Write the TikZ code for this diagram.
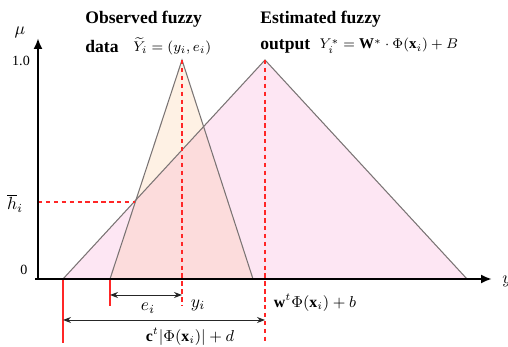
\documentclass[tikz,border=0pt]{standalone}
\usepackage{amsmath,amssymb}
\usepackage{fontspec}
\setmainfont{Liberation Serif}
\usepackage{xcolor}
\usepackage{tikz}
\usetikzlibrary{arrows.meta, positioning, calc}

\definecolor{estpink}{HTML}{FDE6F3}
\definecolor{obsbeige}{HTML}{FEF1E4}
\definecolor{overlap}{HTML}{FCDCDC}
\definecolor{edgegray}{HTML}{7A7474}

\begin{document}
\begin{tikzpicture}[
    x=0.02cm, y=-0.02cm,
    axis/.style={-{Latex[length=2.2mm, width=1.8mm]}, line width=1.5pt, black},
    edge/.style={draw=edgegray, line width=0.6pt},
    guide/.style={red!85!white, line width=0.6pt, dash pattern=on 2.5pt off 2pt},
    redmark/.style={red!85!white, line width=0.7pt},
    dim/.style={{Stealth[length=1.6mm]}-{Stealth[length=1.6mm]}, line width=0.5pt, black!85},
    title/.style={font=\fontsize{10}{11}\selectfont\bfseries, anchor=west, inner sep=0pt},
    formula/.style={font=\fontsize{8.5}{10}\selectfont, anchor=west, inner sep=0pt},
    ticklabel/.style={font=\fontsize{8}{9}\selectfont, inner sep=0pt},
]
\useasboundingbox (0,0) rectangle (508,347);

% Points of the two membership functions
\coordinate (origin) at (38,279);
\coordinate (ytop) at (38,38);
\coordinate (xend) at (492,279);
\coordinate (oL) at (110,279);
\coordinate (oT) at (182,60);
\coordinate (oR) at (253,279);
\coordinate (eL) at (63,279);
\coordinate (eT) at (265,60);
\coordinate (eR) at (467,279);

% Fills
\fill[estpink] (eL) -- (eT) -- (eR) -- cycle;
\fill[obsbeige] (oL) -- (oT) -- (oR) -- cycle;
\begin{scope}
  \clip (eL) -- (eT) -- (eR) -- cycle;
  \fill[overlap] (oL) -- (oT) -- (oR) -- cycle;
\end{scope}

% Outlines
\draw[edge] (eL) -- (eT) -- (eR);
\draw[edge] (oL) -- (oT) -- (oR);

% Guide lines
\coordinate (hcross) at (135,202);
\coordinate (hleft) at (38,202);
\coordinate (yiEnd) at (182,306);
\coordinate (wEnd) at (265,342);
\coordinate (oLEnd) at (110,306);
\coordinate (eLEnd) at (63,343);
\draw[guide] (hleft) -- (hcross);
\draw[guide] (oT) -- (yiEnd);
\draw[guide] (eT) -- (wEnd);
\draw[redmark] (oL) -- (oLEnd);
\draw[redmark] (eL) -- (eLEnd);

% Axes
\draw[axis] (35,279) -- (xend);
\draw[axis] (origin) -- (ytop);

% Axis labels
\node[ticklabel, font=\fontsize{10}{11}\selectfont] (mu) at (20,32) {$\mu$};
\node[ticklabel] (one) at (21,61) {1.0};
\node[ticklabel] (zero) at (24,270) {0};
\node[ticklabel, font=\fontsize{10}{11}\selectfont] (hbar) at (15,203) {$\overline{h}_i$};
\node[anchor=west, inner sep=0pt, font=\fontsize{10}{11}\selectfont] (ylab) at (502,281) {$y$};

% Dimensions
\coordinate (eiL) at (110,295);
\coordinate (eiR) at (182,295);
\coordinate (cL) at (63,320);
\coordinate (cR) at (265,320);
\draw[dim] (eiL) -- (eiR);
\draw[dim] (cL) -- (cR);
\node[ticklabel, font=\fontsize{10}{11}\selectfont] (ei) at (148,308) {$e_i$};
\node[ticklabel, font=\fontsize{10}{11}\selectfont] (yi) at (198,305) {$y_i$};
\node[ticklabel, font=\fontsize{9}{10}\selectfont] (cexpr) at (190,337) {$\mathbf{c}^t\lvert\Phi(\mathbf{x}_i)\rvert+d$};
\node[ticklabel, font=\fontsize{9}{10}\selectfont] (wexpr) at (315,303) {$\mathbf{w}^t\Phi(\mathbf{x}_i)+b$};

% Titles
\node[title] (obsTitle) at (85,19) {Observed fuzzy};
\node[title] (obsData) at (85,46) {data};
\node[formula, right=8pt of obsData] (obsForm) {$\widetilde{Y}_i=(y_i,e_i)$};
\node[title] (estTitle) at (260,19) {Estimated fuzzy};
\node[title] (estOut) at (260,46) {output};
\node[formula, right=5pt of estOut] (estForm) {$Y_i^*=\mathbf{W}^*\cdot\Phi(\mathbf{x}_i)+B$};

\end{tikzpicture}
\end{document}
